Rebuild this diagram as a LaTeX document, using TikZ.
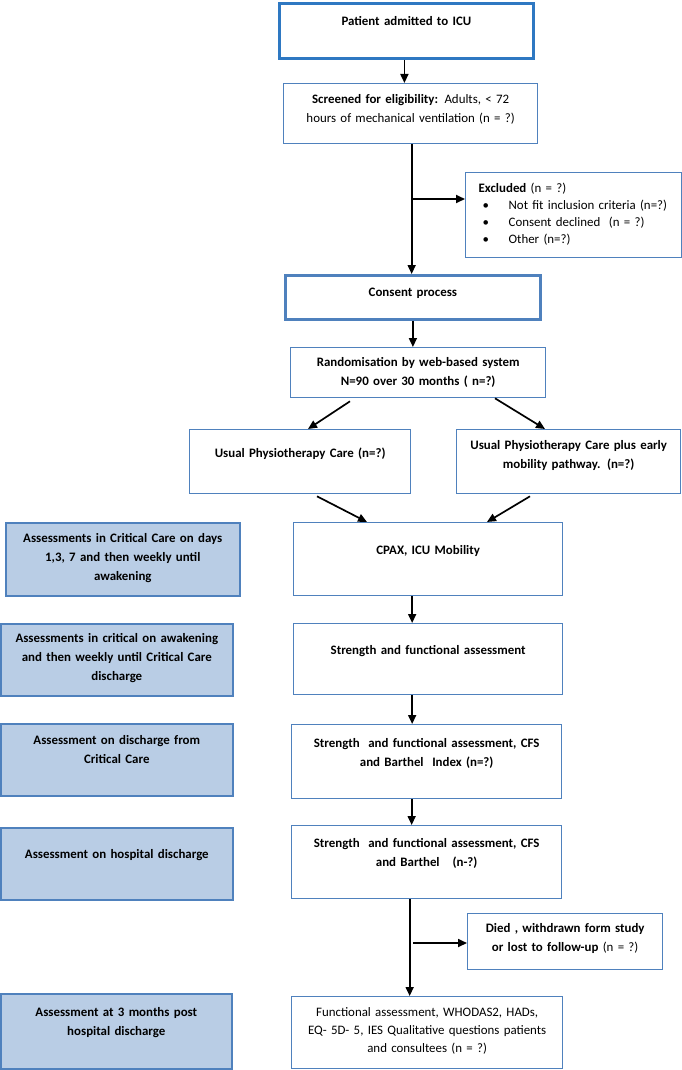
\documentclass[tikz,border=0pt]{standalone}
\usepackage{fontspec}
\setmainfont{Carlito}
\usetikzlibrary{arrows.meta}
\definecolor{boxblue}{HTML}{4F81BD}
\definecolor{admitblue}{HTML}{2E78C2}
\definecolor{stagefill}{HTML}{B9CDE5}
\newcommand{\flowfont}{\fontsize{12.9}{19}\selectfont}
\tikzset{
    boxgeom/.style n args={3}{minimum width=#1, text width=#1, text height=#2, text depth=#3},
    flowbox/.style={draw=boxblue, line width=1.3pt, fill=white, inner sep=0pt,
        align=center, anchor=north west, font=\flowfont\bfseries},
    keybox/.style={flowbox, line width=2.8pt},
    stagebox/.style={flowbox, fill=stagefill, line width=1.6pt},
    arr/.style={line width=1.7pt, -{Triangle[length=9pt,width=8pt]}}
}

\begin{document}
\begin{tikzpicture}[x=1pt, y=-1pt]
        \useasboundingbox (0,0) rectangle (682,1070);
        % main column
        \node[keybox, draw=admitblue, boxgeom={254}{22}{33}] (admit) at (278,2) {Patient admitted to ICU};
        \node[flowbox, boxgeom={254}{20}{40}] (screen) at (283,83)
            {Screened for eligibility: \mdseries Adults, < 72\\ hours of mechanical ventilation (n = ?)};
        \node[flowbox, boxgeom={216}{20}{65}, text width=190, inner xsep=13, align=left,
            font=\fontsize{12.9}{17}\selectfont] (excl) at (465,172)
            {\textbf{Excluded} (n = ?)\\
             \hspace*{4pt}\makebox[26pt][l]{\textbullet}Not fit inclusion criteria (n=?)\\
             \hspace*{4pt}\makebox[26pt][l]{\textbullet}Consent declined\ \ (n = ?)\\
             \hspace*{4pt}\makebox[26pt][l]{\textbullet}Other (n=?)};
        \node[keybox, boxgeom={255}{21}{23}] (consent) at (284,274) {Consent process};
        \node[flowbox, boxgeom={255}{19}{31}] (rand) at (290,347)
            {Randomisation by web-based system\\ N=90 over 30 months ( n=?)};
        \node[flowbox, boxgeom={221}{28}{36}] (usual) at (189,429) {Usual Physiotherapy Care (n=?)};
        \node[flowbox, boxgeom={224}{20}{44}] (plus) at (456,429)
            {Usual Physiotherapy Care plus early\\ mobility pathway. (n=?)};
        \node[flowbox, boxgeom={269}{32}{41}] (cpax) at (293,522) {CPAX, ICU Mobility};
        \node[flowbox, boxgeom={269}{31}{40}] (strength) at (293,623) {Strength and functional assessment};
        \node[flowbox, boxgeom={270}{23}{51}] (cfs) at (291,724)
            {Strength\ \ and functional assessment, CFS\\ and Barthel\ \ Index (n=?)};
        \node[flowbox, boxgeom={270}{22}{51}] (barthel) at (291,825)
            {Strength\ \ and functional assessment, CFS\\ and Barthel\ \ \ (n-?)};
        \node[flowbox, boxgeom={195}{19}{37}] (died) at (467,913)
            {Died , withdrawn form study\\ or lost to follow-up \mdseries(n = ?)};
        \node[flowbox, boxgeom={271}{20}{52}, font=\fontsize{12.9}{18}\selectfont] (final) at (291,996)
            {Functional assessment, WHODAS2, HADs,\\ EQ- 5D- 5, IES Qualitative questions patients\\ and consultees (n = ?)};
        % assessment time points
        \node[stagebox, boxgeom={234}{20}{53}] (stage1) at (5,522)
            {Assessments in Critical Care on days\\ 1,3, 7 and then weekly until\\ awakening};
        \node[stagebox, boxgeom={232}{19}{53}] (stage2) at (0,623)
            {Assessments in critical on awakening\\ and then weekly until Critical Care\\ discharge};
        \node[stagebox, boxgeom={232}{21}{51}] (stage3) at (0,723)
            {Assessment on discharge from\\ Critical Care};
        \node[stagebox, boxgeom={232}{31}{41}] (stage4) at (0,827) {Assessment on hospital discharge};
        \node[stagebox, boxgeom={231}{23}{52}] (stage5) at (0,993)
            {Assessment at 3 months post\\ hospital discharge};
        % split points
        \coordinate (exsplit) at (411,199);
        \coordinate (dsplit) at (409,943);
        % arrows
        \draw[arr] ([xshift=-2]admit.south) -- ([xshift=-2]admit.south |- screen.north);
        \draw[arr] ([xshift=1]screen.south) -- ([xshift=1]screen.south |- consent.north);
        \draw[arr] (exsplit) -- (exsplit -| excl.west);
        \draw[arr] (consent.south) -- (consent.south |- rand.north);
        \draw[arr] ([xshift=60,yshift=-3]rand.south west) -- ([xshift=119]usual.north west);
        \draw[arr] ([xshift=205]rand.south west) -- ([xshift=89]plus.north west);
        \draw[arr] ([xshift=128,yshift=-2]usual.south west) -- ([xshift=74]cpax.north west);
        \draw[arr] ([xshift=74,yshift=-2]plus.south west) -- ([xshift=194]cpax.north west);
        \draw[arr] ([xshift=-16]cpax.south) -- ([xshift=-16]cpax.south |- strength.north);
        \draw[arr] ([xshift=-16]strength.south) -- ([xshift=-16]strength.south |- cfs.north);
        \draw[arr] ([xshift=-15]cfs.south) -- ([xshift=-15]cfs.south |- barthel.north);
        \draw[arr] ([xshift=-17]barthel.south) -- ([xshift=-17]barthel.south |- final.north);
        \draw[arr] ([xshift=4]dsplit) -- (dsplit -| died.west);
    \end{tikzpicture}
\end{document}
